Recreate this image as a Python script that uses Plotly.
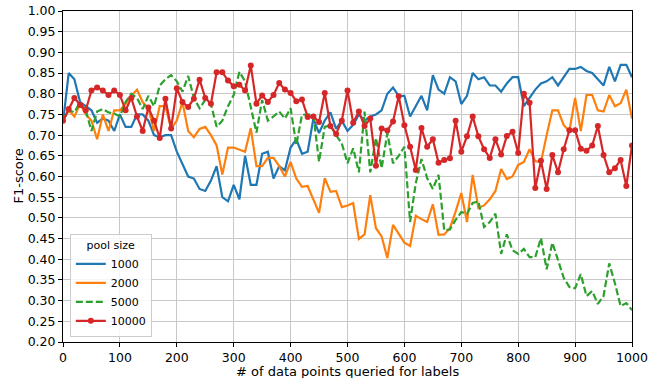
import plotly.graph_objects as go

# Number of labelled points queried (step of 10)
queried = list(range(0, 1001, 10))

f1_pool_1000 = [
    0.73, 0.85, 0.835, 0.78, 0.77, 0.76, 0.73, 0.74, 0.735, 0.71,
    0.75, 0.72, 0.72, 0.75, 0.75, 0.735, 0.70, 0.695, 0.70, 0.70,
    0.66, 0.63, 0.60, 0.595, 0.57, 0.565, 0.59, 0.625, 0.55, 0.54,
    0.58, 0.545, 0.65, 0.58, 0.58, 0.655, 0.66, 0.595, 0.625, 0.615,
    0.67, 0.69, 0.655, 0.66, 0.74, 0.705, 0.735, 0.755, 0.715, 0.735,
    0.71, 0.725, 0.75, 0.735, 0.745, 0.75, 0.76, 0.80, 0.815, 0.795,
    0.795, 0.745, 0.77, 0.795, 0.76, 0.845, 0.81, 0.80, 0.84, 0.83,
    0.775, 0.795, 0.85, 0.835, 0.84, 0.82, 0.82, 0.805, 0.825, 0.84,
    0.84, 0.77, 0.79, 0.81, 0.825, 0.83, 0.84, 0.82, 0.84, 0.86,
    0.86, 0.865, 0.855, 0.85, 0.835, 0.82, 0.865, 0.83, 0.87, 0.87,
    0.84,
]

f1_pool_2000 = [
    0.735, 0.76, 0.745, 0.775, 0.75, 0.735, 0.69, 0.75, 0.71, 0.76,
    0.76, 0.775, 0.795, 0.81, 0.78, 0.765, 0.71, 0.77, 0.77, 0.715,
    0.735, 0.78, 0.71, 0.695, 0.715, 0.72, 0.70, 0.675, 0.605, 0.67,
    0.67, 0.665, 0.66, 0.717, 0.625, 0.625, 0.645, 0.645, 0.625, 0.60,
    0.635, 0.595, 0.575, 0.577, 0.545, 0.512, 0.596, 0.563, 0.565, 0.526,
    0.53, 0.536, 0.449, 0.46, 0.555, 0.475, 0.455, 0.403, 0.483, 0.46,
    0.44, 0.432, 0.505, 0.497, 0.49, 0.533, 0.459, 0.46, 0.475, 0.515,
    0.56, 0.49, 0.604, 0.524, 0.53, 0.545, 0.565, 0.618, 0.594, 0.60,
    0.628, 0.635, 0.666, 0.637, 0.635, 0.70, 0.76, 0.76, 0.724, 0.71,
    0.79, 0.71, 0.797, 0.797, 0.76, 0.757, 0.797, 0.77, 0.777, 0.81,
    0.74,
]

f1_pool_5000 = [
    0.735, 0.76, 0.755, 0.78, 0.76, 0.71, 0.757, 0.763, 0.755, 0.752,
    0.745, 0.78, 0.80, 0.79, 0.763, 0.795, 0.77, 0.82, 0.835, 0.845,
    0.83, 0.805, 0.843, 0.79, 0.765, 0.785, 0.775, 0.72, 0.735, 0.77,
    0.797, 0.853, 0.83, 0.77, 0.706, 0.785, 0.735, 0.745, 0.757, 0.74,
    0.765, 0.676, 0.749, 0.75, 0.749, 0.636, 0.72, 0.724, 0.70, 0.68,
    0.632, 0.668, 0.61, 0.757, 0.61, 0.693, 0.62, 0.705, 0.632, 0.65,
    0.672, 0.49, 0.584, 0.642, 0.596, 0.57, 0.604, 0.47, 0.472, 0.495,
    0.514, 0.51, 0.536, 0.54, 0.478, 0.49, 0.51, 0.413, 0.46, 0.422,
    0.413, 0.425, 0.405, 0.405, 0.451, 0.376, 0.44, 0.398, 0.355, 0.333,
    0.33, 0.364, 0.311, 0.323, 0.292, 0.311, 0.39, 0.342, 0.287, 0.294,
    0.277,
]

f1_pool_10000 = [
    0.735, 0.763, 0.79, 0.773, 0.76, 0.808, 0.815, 0.808, 0.797, 0.808,
    0.797, 0.76, 0.79, 0.745, 0.71, 0.767, 0.735, 0.693, 0.788, 0.716,
    0.813, 0.78, 0.768, 0.788, 0.834, 0.79, 0.776, 0.852, 0.852, 0.832,
    0.818, 0.822, 0.808, 0.868, 0.776, 0.796, 0.78, 0.797, 0.826, 0.81,
    0.802, 0.782, 0.786, 0.744, 0.745, 0.732, 0.802, 0.722, 0.703, 0.735,
    0.808, 0.73, 0.757, 0.722, 0.74, 0.626, 0.716, 0.711, 0.733, 0.794,
    0.724, 0.672, 0.616, 0.717, 0.672, 0.69, 0.633, 0.64, 0.644, 0.735,
    0.66, 0.697, 0.745, 0.697, 0.666, 0.645, 0.69, 0.653, 0.698, 0.708,
    0.657, 0.80, 0.778, 0.572, 0.638, 0.57, 0.652, 0.61, 0.666, 0.712,
    0.712, 0.667, 0.662, 0.675, 0.722, 0.652, 0.61, 0.62, 0.64, 0.577,
    0.675,
]

series = [
    ("1000", f1_pool_1000, "#1f77b4", "solid", "lines"),
    ("2000", f1_pool_2000, "#ff7f0e", "solid", "lines"),
    ("5000", f1_pool_5000, "#2ca02c", "7px,3px", "lines"),
    ("10000", f1_pool_10000, "#d62728", "solid", "lines+markers"),
]

fig = go.Figure()
for name, values, color, dash, mode in series:
    fig.add_trace(go.Scatter(
        x=queried, y=values, name=name, mode=mode,
        line=dict(color=color, width=2.2, dash=dash),
        marker=dict(color=color, size=6),
    ))

font_family = "DejaVu Sans"
axis_common = dict(
    showline=True, linecolor="black", linewidth=1, mirror=True,
    ticks="outside", ticklen=4, tickcolor="black",
    showgrid=True, gridcolor="#c8c8c8", gridwidth=1.2,
    zeroline=False, automargin=False,
    tickfont=dict(family=font_family, size=12.5, color="black"),
)

fig.update_xaxes(range=[0, 1000], dtick=100, tick0=0, **axis_common)
fig.update_yaxes(range=[0.2, 1.0], dtick=0.05, tick0=0.2, tickformat=".2f",
                 **axis_common)

# Axis titles placed as annotations so their position is fixed
title_font = dict(family=font_family, size=13, color="black")
fig.add_annotation(
    text="# of data points queried for labels", xref="paper", yref="paper",
    x=0.5, y=0, xanchor="center", yanchor="top", yshift=-20,
    showarrow=False, font=title_font,
)
fig.add_annotation(
    text="F1-score", xref="paper", yref="paper",
    x=0, y=0.5, xanchor="center", yanchor="middle", xshift=-45,
    textangle=-90, showarrow=False, font=title_font,
)

fig.update_layout(
    width=665, height=378,
    margin=dict(l=63, r=33, t=11, b=36),
    plot_bgcolor="white", paper_bgcolor="white",
    font=dict(family=font_family, color="black"),
    legend=dict(
        title=dict(text="pool size", side="top center",
                   font=dict(family=font_family, size=11)),
        x=0.012, y=0.015, xanchor="left", yanchor="bottom",
        bgcolor="rgba(255,255,255,0.85)", bordercolor="#cccccc",
        borderwidth=1, font=dict(family=font_family, size=11),
        itemwidth=30, tracegroupgap=0,
    ),
)

fig.write_html("out.html")
